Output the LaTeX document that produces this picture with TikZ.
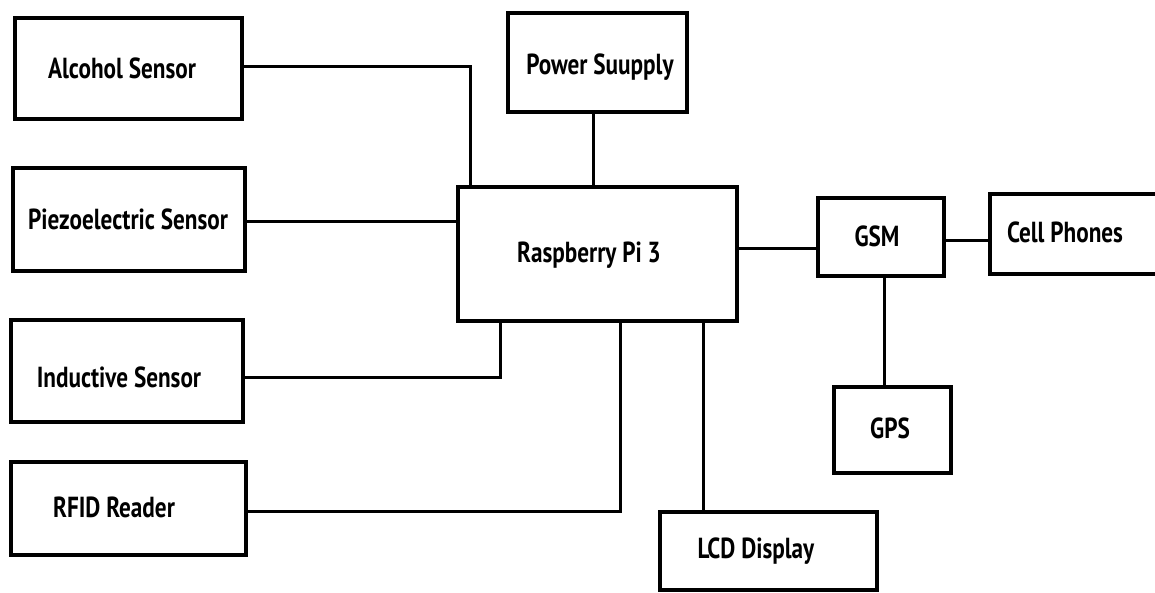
\documentclass[tikz,border=0pt]{standalone}
\usepackage{fontspec}
\setmainfont[FakeStretch=0.8]{PT Sans}
\begin{document}
\begin{tikzpicture}[x=1pt,y=-1pt,
  blk/.style={draw=black, line width=3.2pt, rectangle, inner sep=0pt},
  lbl/.style={anchor=base, inner sep=0pt, font=\fontsize{29}{33}\selectfont\bfseries},
  wire/.style={line width=3pt}]
\useasboundingbox (0,0) rectangle (1155,593);
\fill[white] (0,0) rectangle (1155,593);
% boxes
\node[blk, minimum width=227pt, minimum height=101pt] (alc) at (128.5,68.5) {};
\node[blk, minimum width=179pt, minimum height=99pt] (pow) at (597.5,62.5) {};
\node[blk, minimum width=232pt, minimum height=103pt] (pie) at (129,219.5) {};
\node[blk, minimum width=279pt, minimum height=134pt] (ras) at (597.5,254) {};
\node[blk, minimum width=126pt, minimum height=78pt] (gsm) at (881,237) {};
\node[blk, minimum width=180pt, minimum height=80pt] (cel) at (1080,234) {};
\node[blk, minimum width=117pt, minimum height=86pt] (gps) at (892.5,430) {};
\node[blk, minimum width=232pt, minimum height=102pt] (ind) at (127,371) {};
\node[blk, minimum width=235pt, minimum height=93pt] (rfi) at (128.5,508.5) {};
\node[blk, minimum width=217pt, minimum height=78pt] (lcd) at (768.5,551) {};
% labels
\node[lbl] (talc) at (122,79) {Alcohol Sensor};
\node[lbl] (tpow) at (600,75) {Power Suupply};
\node[lbl] (tpie) at (128,230) {Piezoelectric Sensor};
\node[lbl] (tras) at (589,263) {Raspberry Pi 3};
\node[lbl] (tgsm) at (877,247) {GSM};
\node[lbl] (tcel) at (1065,243) {Cell Phones};
\node[lbl] (tgps) at (890,438) {GPS};
\node[lbl] (tind) at (119,387) {Inductive Sensor};
\node[lbl] (trfi) at (114,517) {RFID Reader};
\node[lbl] (tlcd) at (756,558) {LCD Display};
% connectors
\draw[wire] ([yshift=2pt]alc.east) -| ([xshift=14pt]ras.north west);
\draw[wire] ([xshift=-4pt]pow.south) -- ([xshift=-4pt]pow.south |- ras.north);
\draw[wire] ([yshift=-2pt]pie.east) -- ([yshift=-2pt]pie.east -| ras.west);
\draw[wire] ([yshift=5pt]ras.east) -- ([yshift=5pt]ras.east -| gsm.west);
\draw[wire] ([yshift=-4pt]gsm.east) -- ([yshift=-4pt]gsm.east -| cel.west);
\draw[wire] ([xshift=3pt]gsm.south) -- ([xshift=3pt]gsm.south |- gps.north);
\draw[wire] ([yshift=-6pt]ind.east) -| ([xshift=44pt]ras.south west);
\draw[wire] ([yshift=-2.5pt]rfi.east) -| ([xshift=164pt]ras.south west);
\draw[wire] ([xshift=247pt]ras.south west) -- ([xshift=247pt]ras.south west |- lcd.north);
\end{tikzpicture}
\end{document}
